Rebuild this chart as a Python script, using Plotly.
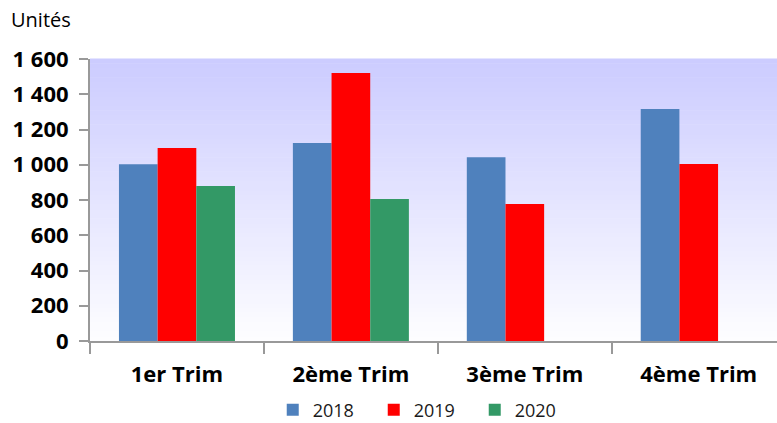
import plotly.graph_objects as go

# Data
quarters = ['1er Trim', '2ème Trim', '3ème Trim', '4ème Trim']
v2018 = [1003, 1123, 1043, 1316]
v2019 = [1095, 1520, 777, 1004]
v2020 = [879, 806, None, None]

series = [('2018', v2018, '#4F81BD'), ('2019', v2019, '#FF0000'), ('2020', v2020, '#339966')]

FONT = 'Open Sans'

fig = go.Figure()
for name, vals, col in series:
    fig.add_trace(go.Bar(x=quarters, y=vals, name=name, marker_color=col,
                         marker_line_width=0))

# Gradient plot background: lavender at top fading to white at bottom
n_bands = 60
top = (204, 204, 255)
bot = (253, 253, 255)
shapes = []
for i in range(n_bands):
    t = i / (n_bands - 1)
    r = round(bot[0] + (top[0] - bot[0]) * t)
    g = round(bot[1] + (top[1] - bot[1]) * t)
    b = round(bot[2] + (top[2] - bot[2]) * t)
    shapes.append(dict(type='rect', xref='x domain', yref='y domain',
                       x0=0, x1=1, y0=i / n_bands, y1=(i + 1) / n_bands + 0.002,
                       fillcolor=f'rgb({r},{g},{b})', line_width=0, layer='below'))

fig.update_layout(
    width=777, height=423,
    margin=dict(l=90, r=0, t=59, b=82),
    paper_bgcolor='white',
    plot_bgcolor='white',
    barmode='group',
    bargap=0.333,
    bargroupgap=0,
    separators=', ',
    shapes=shapes,
    font=dict(family=FONT, color='black'),
    showlegend=True,
    legend=dict(orientation='h', x=0.546, xref='container', xanchor='center',
                y=1 - 410 / 423, yref='container', yanchor='middle',
                font=dict(family=FONT, size=18, color='#1a1a1a'),
                entrywidth=56, bgcolor='rgba(0,0,0,0)'),
    annotations=[dict(text='Unités', xref='paper', yref='paper',
                      x=(9 - 90) / 687, y=(341 - 19) / 282,
                      xanchor='left', yanchor='middle', showarrow=False,
                      font=dict(family=FONT, size=20, color='black'))],
)

fig.update_xaxes(
    range=[-0.5, 3.45], automargin=False,
    showline=True, linecolor='#999999', linewidth=2,
    ticks='outside', tickson='boundaries', ticklen=11, tickcolor='#999999', tickwidth=2,
    tickfont=dict(family=FONT, size=22, color='black', weight='bold'),
    ticklabelstandoff=13,
    showgrid=False,
)
fig.update_yaxes(
    range=[0, 1600], dtick=200, tickformat=',d', automargin=False,
    showline=True, linecolor='#999999', linewidth=2,
    ticks='outside', ticklen=9, tickcolor='#999999', tickwidth=2,
    tickfont=dict(family=FONT, size=22, color='black', weight='bold'),
    ticklabelstandoff=6,
    showgrid=False, zeroline=False,
)

# the page body has a default 8px margin; drop it so the chart fills the window
fig.write_html('out.html', config={'displayModeBar': False},
               post_script="document.body.style.margin='0';")
